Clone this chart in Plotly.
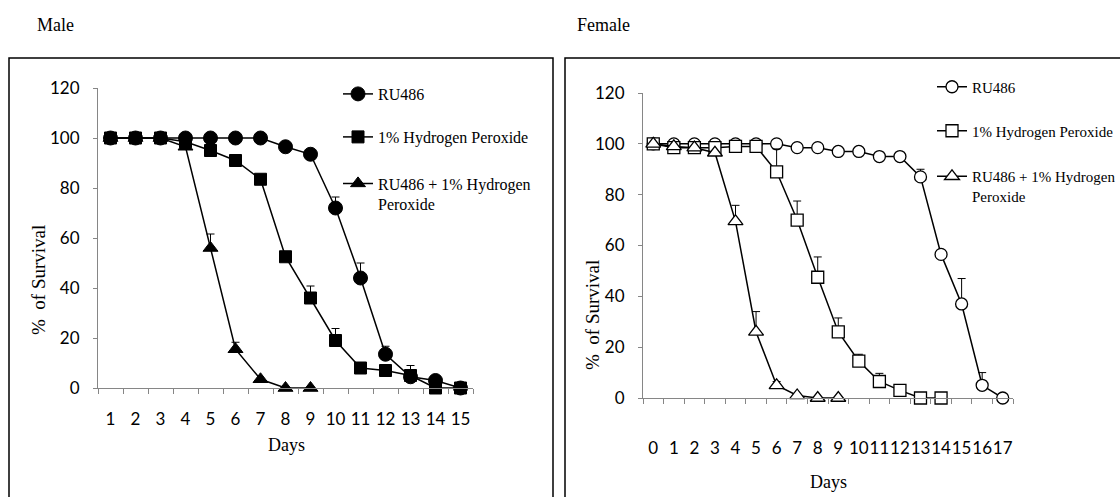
import plotly.graph_objects as go

W, H = 1120, 497

# ---- Male survival (%), days 1-15 ----
male_days = [str(d) for d in range(1, 16)]
male_ru486 = [100, 100, 100, 100, 100, 100, 100, 96.5, 93.5, 72, 44, 13.5, 4.5, 3, 0]
male_ru486_err = [None, None, None, None, None, None, None, None, None, 4.4, 6, 3.2, None, None, None]
male_h2o2 = [100, 100, 100, 98.5, 95, 91, 83.5, 52.5, 36, 19, 8, 7, 5, 0, 0]
male_h2o2_err = [None, None, None, None, None, None, None, None, 4.8, 4.8, None, None, 4, None, None]
male_combo = [100, 100, 100, 96.5, 56, 15.5, 3.5, 0, 0, None, None, None, None, None, None]
male_combo_err = [None, None, None, None, 5.6, 2.8, None, None, None, None, None, None, None, None, None]

# ---- Female survival (%), days 0-17 ----
female_days = [str(d) for d in range(0, 18)]
female_ru486 = [100, 100, 100, 100, 100, 100, 100, 98.5, 98.5, 97, 97, 95, 95, 87, 56.5, 37, 5, 0]
female_ru486_err = [None] * 13 + [3, None, 10, 5, None]
female_h2o2 = [100, 98.5, 98.5, 98.5, 99, 99, 89, 70, 47.5, 26, 14.5, 6.5, 3, 0, 0, None, None, None]
female_h2o2_err = [None] * 6 + [9, 7.5, 8, 5.5, 2.7, 3.2] + [None] * 6
female_combo = [100, 99, 98.5, 96.5, 69.5, 26, 5, 1, 0, 0] + [None] * 8
female_combo_err = [None] * 4 + [6.3, 8, 1.5] + [None] * 11

labels = ["RU486", "1% Hydrogen Peroxide", "RU486 + 1% Hydrogen<br>Peroxide"]

SERIF = "Liberation Serif"
TICKFONT = dict(family="Lato", size=17, color="black")
AXIS_GREY = "#868686"


def px_x(p):
    return p / W


def px_y(p):
    return 1 - p / H


def err(vals):
    ups = [v if v is not None else None for v in vals]
    downs = [0 if v is not None else None for v in vals]
    return dict(type="data", symmetric=False, array=ups, arrayminus=downs,
                width=4, thickness=1, color="black")


fig = go.Figure()

male_series = [
    (male_ru486, male_ru486_err, "circle", 14),
    (male_h2o2, male_h2o2_err, "square", 12),
    (male_combo, male_combo_err, "triangle-up", 13),
]
for i, (vals, e, sym, size) in enumerate(male_series):
    fig.add_trace(go.Scatter(
        x=male_days, y=vals, name=labels[i], mode="lines+markers",
        line=dict(color="black", width=1.5),
        marker=dict(symbol=sym, size=size, color="black", line=dict(color="black", width=1)),
        error_y=err(e), cliponaxis=False, connectgaps=False,
        xaxis="x", yaxis="y", legend="legend" if i == 0 else f"legend{i + 1}",
    ))

female_series = [
    (female_ru486, female_ru486_err, "circle", 12),
    (female_h2o2, female_h2o2_err, "square", 12),
    (female_combo, female_combo_err, "triangle-up", 13),
]
for i, (vals, e, sym, size) in enumerate(female_series):
    fig.add_trace(go.Scatter(
        x=female_days, y=vals, name=labels[i], mode="lines+markers",
        line=dict(color="black", width=1.5),
        marker=dict(symbol=sym, size=size, color="white", line=dict(color="black", width=1.3)),
        error_y=err(e), cliponaxis=False, connectgaps=False,
        xaxis="x2", yaxis="y2", legend=f"legend{i + 4}",
    ))

xcommon = dict(type="category", tickson="boundaries", ticks="outside", ticklen=5,
               tickcolor=AXIS_GREY, showline=True, linecolor=AXIS_GREY, linewidth=1,
               showgrid=False, zeroline=False, tickfont=TICKFONT, tickangle=0,
               fixedrange=True)
ycommon = dict(range=[0, 120], tick0=0, dtick=20, ticks="outside", ticklen=4,
               tickcolor=AXIS_GREY, showline=True, linecolor=AXIS_GREY, linewidth=1,
               showgrid=False, zeroline=False, tickfont=TICKFONT, ticklabelstandoff=10,
               fixedrange=True)

legend_base = dict(bgcolor="rgba(0,0,0,0)", borderwidth=0, xanchor="left", yanchor="middle",
                   valign="top", itemclick=False, itemdoubleclick=False)
left_font = dict(family=SERIF, size=16, color="black")
right_font = dict(family=SERIF, size=15, color="black")
title_font = dict(family=SERIF, size=18, color="black")
ytitle_font = dict(family=SERIF, size=19, color="black")

fig.update_layout(
    width=W, height=H,
    showlegend=True,
    margin=dict(l=0, r=0, t=0, b=0, autoexpand=False),
    paper_bgcolor="white", plot_bgcolor="white",
    xaxis=dict(xcommon, domain=[px_x(98), px_x(473)], range=[-0.5, 14.5], anchor="y",
               ticklabelstandoff=16),
    yaxis=dict(ycommon, domain=[px_y(388), px_y(88)], anchor="x"),
    xaxis2=dict(xcommon, domain=[px_x(643), px_x(1013)], range=[-0.5, 17.5], anchor="y2",
                ticklabelstandoff=35),
    yaxis2=dict(ycommon, domain=[px_y(398), px_y(93)], anchor="x2"),
    legend=dict(legend_base, font=left_font, x=px_x(338), y=px_y(94)),
    legend2=dict(legend_base, font=left_font, x=px_x(338), y=px_y(137)),
    legend3=dict(legend_base, font=left_font, x=px_x(338), y=px_y(194)),
    legend4=dict(legend_base, font=right_font, x=px_x(932), y=px_y(87)),
    legend5=dict(legend_base, font=right_font, x=px_x(932), y=px_y(131)),
    legend6=dict(legend_base, font=right_font, x=px_x(932), y=px_y(186)),
    shapes=[
        dict(type="rect", xref="paper", yref="paper", x0=px_x(9), x1=px_x(553),
             y0=-0.05, y1=px_y(58), line=dict(color="black", width=1.5)),
        dict(type="rect", xref="paper", yref="paper", x0=px_x(565), x1=1.05,
             y0=-0.05, y1=px_y(58), line=dict(color="black", width=1.5)),
    ],
    annotations=[
        dict(text="Male", x=px_x(35), y=px_y(25), xref="paper", yref="paper",
             xanchor="left", yanchor="middle", showarrow=False, font=title_font),
        dict(text="Female", x=px_x(575), y=px_y(25), xref="paper", yref="paper",
             xanchor="left", yanchor="middle", showarrow=False, font=title_font),
        dict(text="%\u00a0\u00a0of Survival", x=px_x(38), y=px_y(280), xref="paper", yref="paper",
             textangle=-90, xanchor="center", yanchor="middle", showarrow=False,
             font=ytitle_font),
        dict(text="%\u00a0\u00a0of Survival", x=px_x(592), y=px_y(315), xref="paper", yref="paper",
             textangle=-90, xanchor="center", yanchor="middle", showarrow=False,
             font=ytitle_font),
        dict(text="Days", x=px_x(286), y=px_y(445), xref="paper", yref="paper",
             xanchor="center", yanchor="middle", showarrow=False, font=title_font),
        dict(text="Days", x=px_x(828), y=px_y(482), xref="paper", yref="paper",
             xanchor="center", yanchor="middle", showarrow=False, font=title_font),
    ],
)

fig.write_html("out.html")
